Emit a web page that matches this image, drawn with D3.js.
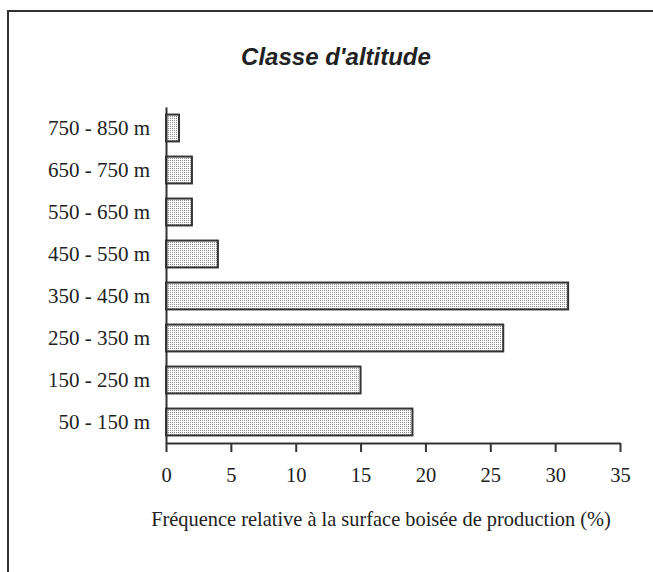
<!DOCTYPE html>
<html>
<head>
<meta charset="utf-8">
<script src="https://cdn.jsdelivr.net/npm/d3@7"></script>
<style>
  html, body { margin: 0; padding: 0; background: #fff; }
  svg { display: block; }
</style>
</head>
<body>
<svg id="chart" width="653" height="572"></svg>
<script>
const categories = ["50 - 150 m", "150 - 250 m", "250 - 350 m", "350 - 450 m",
                    "450 - 550 m", "550 - 650 m", "650 - 750 m", "750 - 850 m"];
const values = [19, 15, 26, 31, 4, 2, 2, 1];
const xTicks = [0, 5, 10, 15, 20, 25, 30, 35];
const title = "Classe d'altitude";
const xTitle = "Fréquence relative à la surface boisée de production (%)";

const svg = d3.select("#chart");
const ink = "#333";

// frame
svg.append("rect")
  .attr("x", 8).attr("y", 11)
  .attr("width", 700).attr("height", 700)
  .attr("fill", "none").attr("stroke", ink).attr("stroke-width", 2);

// pattern
const defs = svg.append("defs");
const pat = defs.append("pattern")
  .attr("id", "dots").attr("patternUnits", "userSpaceOnUse")
  .attr("width", 2).attr("height", 2);
pat.append("rect").attr("width", 2).attr("height", 2).attr("fill", "#fff");
pat.append("rect").attr("width", 1).attr("height", 1).attr("fill", "#8a8a8a");

const x = d3.scaleLinear().domain([0, 35]).range([166, 620]);
const y = d3.scaleBand().domain(categories).range([443, 107])
  .paddingInner(0.36).paddingOuter(0.18);

// bars
svg.append("g").selectAll("rect")
  .data(categories.map((c, i) => ({ c, v: values[i] })))
  .join("rect")
  .attr("x", x(0))
  .attr("y", d => y(d.c))
  .attr("width", d => x(d.v) - x(0))
  .attr("height", y.bandwidth())
  .attr("fill", "url(#dots)")
  .attr("stroke", ink).attr("stroke-width", 2);

// x axis
const gx = svg.append("g").attr("transform", "translate(0,443)")
  .call(d3.axisBottom(x).tickValues(xTicks).tickSize(9).tickSizeOuter(0).tickPadding(15));
gx.select(".domain").attr("stroke", ink).attr("stroke-width", 2);
gx.selectAll(".tick line").attr("stroke", ink).attr("stroke-width", 2);
gx.selectAll(".tick text")
  .attr("font-family", "Liberation Serif, Times New Roman, serif")
  .attr("font-size", 20.5).attr("fill", "#222");

// y axis
const gy = svg.append("g").attr("transform", "translate(166,0)")
  .call(d3.axisLeft(y).tickSize(0).tickSizeOuter(0).tickPadding(16));
gy.select(".domain").attr("stroke", ink).attr("stroke-width", 2);
gy.selectAll(".tick text")
  .attr("font-family", "Liberation Serif, Times New Roman, serif")
  .attr("font-size", 21).attr("fill", "#222");

// title
svg.append("text")
  .attr("x", 336).attr("y", 65)
  .attr("text-anchor", "middle")
  .attr("font-family", "Liberation Sans, Arial, sans-serif")
  .attr("font-weight", "bold").attr("font-style", "italic")
  .attr("font-size", 24).attr("fill", "#222")
  .text(title);

// x title
svg.append("text")
  .attr("x", 381).attr("y", 526)
  .attr("text-anchor", "middle")
  .attr("font-family", "Liberation Serif, Times New Roman, serif")
  .attr("font-size", 20.4).attr("fill", "#222")
  .text(xTitle);
</script>
</body>
</html>
